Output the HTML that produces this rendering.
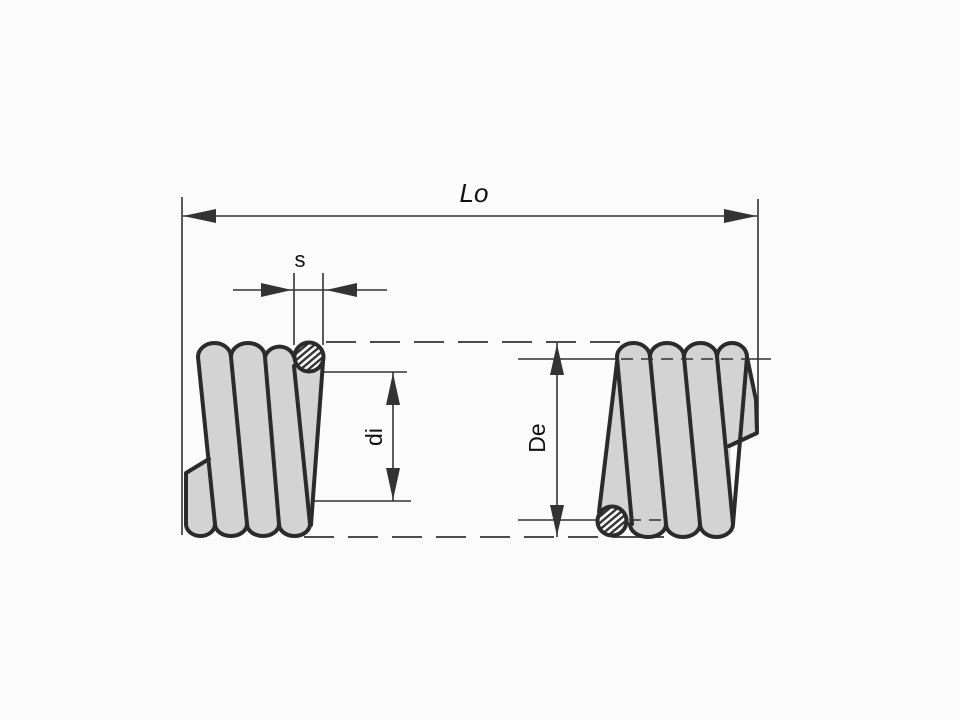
<!DOCTYPE html>
<html><head><meta charset="utf-8"><style>
html,body{margin:0;padding:0;background:#fbfbfb;}
svg{display:block;}
text{font-family:"Liberation Sans","DejaVu Sans",sans-serif;fill:#111;}
</style></head><body>
<svg width="960" height="720" viewBox="0 0 960 720" xmlns="http://www.w3.org/2000/svg">
<defs>
<pattern id="h" width="5" height="5" patternUnits="userSpaceOnUse" patternTransform="rotate(-40)">
<rect width="5" height="5" fill="#fff"/><rect width="5" height="2.4" fill="#333"/>
</pattern>
</defs>
<rect width="960" height="720" fill="#fbfbfb"/>

<!-- Lo dimension -->
<g stroke="#333" stroke-width="1.6" fill="none">
<line x1="182" y1="197" x2="182" y2="535"/>
<line x1="758" y1="199" x2="758" y2="432"/>
<line x1="183" y1="216" x2="757" y2="216"/>
</g>
<polygon points="183,216 216,209 216,223" fill="#333"/>
<polygon points="757,216 724,209 724,223" fill="#333"/>
<text x="474" y="202" font-size="26" font-style="italic" text-anchor="middle">Lo</text>

<!-- s dimension -->
<g stroke="#333" stroke-width="1.6">
<line x1="294" y1="273" x2="294" y2="345"/>
<line x1="323" y1="273" x2="323" y2="345"/>
<line x1="233" y1="290" x2="387" y2="290"/>
</g>
<polygon points="292,290 261,283 261,297" fill="#333"/>
<polygon points="326,290 357,283 357,297" fill="#333"/>
<text x="300" y="267" font-size="22" text-anchor="middle">s</text>

<!-- dashed envelope lines -->
<g stroke="#333" stroke-width="1.8" stroke-dasharray="30,14">
<line x1="326" y1="342" x2="632" y2="342"/>
<line x1="304" y1="537" x2="664" y2="537"/>
</g>

<!-- di dimension -->
<g stroke="#333" stroke-width="1.6">
<line x1="283" y1="372" x2="407" y2="372"/>
<line x1="289" y1="501" x2="411" y2="501"/>
<line x1="393" y1="372" x2="393" y2="501"/>
</g>
<polygon points="393,373 386,405 400,405" fill="#333"/>
<polygon points="393,500 386,468 400,468" fill="#333"/>
<text x="0" y="0" font-size="23" text-anchor="middle" transform="translate(382,437) rotate(-90)">di</text>

<!-- De dimension -->
<g stroke="#333" stroke-width="1.6">
<line x1="518" y1="359" x2="617" y2="359"/>
<line x1="747" y1="359" x2="771" y2="359"/>
<line x1="518" y1="520" x2="598" y2="520"/>
<line x1="557" y1="343" x2="557" y2="537"/>
</g>
<polygon points="557,344 550,375 564,375" fill="#333"/>
<polygon points="557,536 550,505 564,505" fill="#333"/>
<text x="0" y="0" font-size="23" text-anchor="middle" transform="translate(545,438) rotate(-90)">De</text>

<!-- left coil -->
<polygon points="198,357 324,357 312,524 186,524 186,473 209,459" fill="#d3d3d3"/>
<g stroke="#2b2b2b" stroke-width="4" fill="#d3d3d3" stroke-linejoin="round" stroke-linecap="round">
<path d="M198,357 A16.5,14 0 0 1 231,357 A17,14 0 0 1 265,357 A15,14 0 0 1 294,357"/>
<path d="M186,524 A14.5,12 0 0 0 215,524 A16,12 0 0 0 247,524 A16,12 0 0 0 279,524 A15.5,12 0 0 0 310,524"/>
</g>
<g stroke="#2b2b2b" stroke-width="4" fill="none" stroke-linejoin="round" stroke-linecap="round">
<path d="M186,524 L186,473 L209,459"/>
<line x1="198" y1="357" x2="215" y2="524"/>
<line x1="231" y1="357" x2="247" y2="524"/>
<line x1="265" y1="357" x2="279" y2="524"/>
<line x1="294" y1="366" x2="310" y2="524"/>
<line x1="323" y1="362" x2="311" y2="525"/>
</g>
<circle cx="309" cy="357" r="14.5" fill="url(#h)" stroke="#2b2b2b" stroke-width="4"/>

<!-- right coil -->
<polygon points="617,357 747,357 757,400 757,433 730,446 733,524 630,524 599,512" fill="#d3d3d3"/>
<g stroke="#2b2b2b" stroke-width="4" fill="#d3d3d3" stroke-linejoin="round" stroke-linecap="round">
<path d="M617,357 A16.5,14 0 0 1 650,357 A17,14 0 0 1 684,357 A16.5,14 0 0 1 717,357 A15,14 0 0 1 747,357"/>
<path d="M630,524 A18,13 0 0 0 666,524 A17,13 0 0 0 700,524 A16.5,13 0 0 0 733,524"/>
</g>
<g stroke="#2b2b2b" stroke-width="4" fill="none" stroke-linejoin="round" stroke-linecap="round">
<line x1="617" y1="357" x2="632" y2="524"/>
<line x1="650" y1="357" x2="666" y2="524"/>
<line x1="684" y1="357" x2="700" y2="524"/>
<line x1="717" y1="357" x2="733" y2="524"/>
<line x1="747" y1="357" x2="733" y2="524"/>
<path d="M747,357 L756,400 L757,433 L729,446"/>
<line x1="617" y1="362" x2="599" y2="512"/>
</g>
<circle cx="612" cy="521" r="14.5" fill="url(#h)" stroke="#2b2b2b" stroke-width="4"/>
<g stroke="#333" stroke-width="1.6" stroke-dasharray="12,8">
<line x1="621" y1="359" x2="747" y2="359"/>
<line x1="629" y1="520" x2="664" y2="520"/>
</g>
</svg>
</body></html>
